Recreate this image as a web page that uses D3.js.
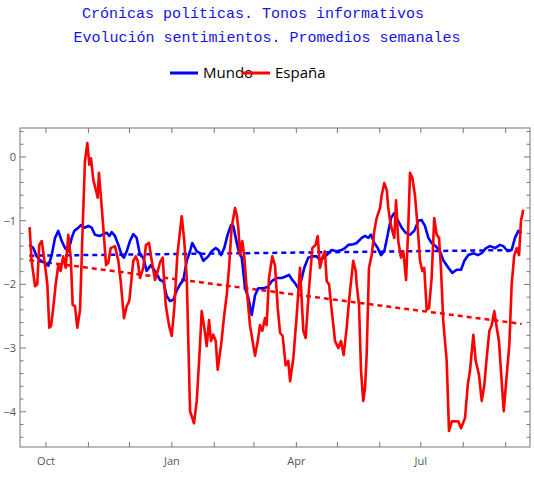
<!DOCTYPE html>
<html><head><meta charset="utf-8">
<script src="https://cdn.jsdelivr.net/npm/d3@7"></script>
<style>body{margin:0;background:#fff}</style></head>
<body><svg id="c" width="534" height="497"></svg>
<script>
// days since 2019-10-01
const espDays=[-12,-10.5,-8,-6.4,-4.9,-3.1,-0.7,1,2.4,3.7,5.3,7.1,9,10.7,12.6,14.4,16.3,18.1,19.5,21.2,22.9,24.9,26.8,28.5,30.2,31.7,32.9,34.6,36.6,37.8,38.7,40.2,41.9,43.9,45.5,47.3,50.4,52.9,54.6,57,59,60.9,63.8,65.6,67,68.7,71.1,73.1,75.3,77.3,79.7,81.7,83.3,85.3,87.5,89.9,91.9,93.8,96,99.2,100.9,102.9,105.3,108.2,110.2,112.6,113.8,115.7,117.5,119.2,120.6,122.3,124.1,125.5,128,130.3,132.1,133.8,135.7,138.2,139.4,140.6,141.8,143.5,145,146.7,149.1,152.8,154.8,156.4,158.1,160.1,161.3,163,165.4,167.4,169.4,171.1,173,175.2,177.1,178.4,180.8,183.3,185.7,188.1,189.8,192.3,194.7,197.1,198.6,200.3,202,203.9,205.2,206.9,208.8,211.3,213.7,215.6,217.6,219.8,221.5,224.6,226.4,227.1,228.8,230.3,231.9,233.2,234.4,236.1,238.1,240,241.7,244.2,245.4,247.3,249.1,250.2,251.5,253.1,254.6,255.9,257.5,259.5,261.2,263.2,264.8,266.1,267.8,269.7,271.7,273.4,275.1,276.5,278.3,280,281.9,283.8,285.6,287.3,288.7,290.4,292.9,294.6,296.6,299,301.4,303.4,306.3,308.3,309.9,312.4,314.1,316.5,318.5,320.4,322.1,324.1,325.8,327.7,329.5,331.1,333.1,334.6,336.8,338.7,340.4,342.3,344.1,345.8,347.2,348.9];
const espVals=[-1.10,-1.63,-2.03,-2.0,-1.38,-1.32,-1.70,-2.0,-2.68,-2.65,-2.37,-2.0,-1.70,-1.79,-1.56,-1.74,-1.22,-1.58,-2.32,-2.34,-2.68,-2.40,-1.11,-0.06,0.22,-0.12,-0.02,-0.36,-0.53,-0.64,-0.25,-0.64,-1.11,-1.70,-1.66,-1.43,-1.40,-1.63,-1.95,-2.53,-2.34,-2.26,-1.63,-1.56,-1.63,-1.90,-1.74,-1.38,-1.35,-1.63,-1.93,-1.79,-1.66,-1.58,-2.32,-2.64,-2.81,-2.37,-1.54,-0.93,-1.27,-1.90,-3.99,-4.18,-3.83,-2.95,-2.42,-2.68,-2.97,-2.56,-2.89,-2.79,-2.89,-3.34,-2.95,-2.48,-2.17,-1.74,-1.11,-0.80,-0.91,-1.11,-1.54,-1.32,-1.58,-2.06,-2.64,-3.12,-2.89,-2.64,-2.73,-2.53,-2.64,-1.90,-1.56,-1.70,-2.37,-2.76,-2.81,-3.27,-3.20,-3.52,-3.16,-2.48,-1.74,-2.73,-2.84,-2.06,-1.43,-1.38,-1.24,-1.74,-1.58,-1.48,-1.95,-2.0,-2.40,-2.89,-3.0,-2.89,-3.11,-2.68,-2.26,-1.63,-1.79,-2.0,-2.32,-3.36,-3.83,-3.63,-3.11,-1.74,-1.54,-1.16,-0.96,-0.80,-0.60,-0.41,-0.52,-0.80,-1.0,-1.16,-1.27,-0.68,-1.32,-1.58,-1.48,-1.93,-1.11,-0.25,-0.33,-0.60,-1.11,-1.63,-1.79,-1.74,-2.40,-2.37,-1.90,-0.96,-1.22,-1.27,-1.74,-2.58,-3.20,-4.30,-4.15,-4.15,-4.15,-4.26,-4.10,-3.58,-3.36,-2.79,-3.20,-3.42,-3.83,-3.58,-3.16,-2.73,-2.64,-2.42,-2.68,-2.89,-3.52,-3.99,-3.42,-2.95,-2.0,-1.54,-1.43,-1.54,-1.0,-0.83];
const munDays=[-12.2,-9.3,-6.8,-3.9,-0.7,1.7,4.2,6.6,9,11.5,13.9,16.3,18.8,20.7,23.6,25.6,28.5,30.9,33.4,35.8,39.5,41.9,44.4,46.3,48,50.4,52.9,55.3,57,59,61.4,63.8,66.3,68.7,71.1,73.6,76.5,79.7,83.3,85.7,88.2,90.6,93.1,95.5,98,100.4,102.9,105.3,106.9,110.2,112.6,115,118.6,121.1,124.1,126,128,130.3,132.8,135.2,136.9,138.7,140.6,143.1,145.5,147.9,150.4,152.8,155.2,158.8,162.1,165,168.6,172.3,174.7,177.6,180,182,184.4,186.4,188.8,191.7,194.7,197.9,200.3,202.7,205.2,208.8,212.5,216.2,218.6,221,224.6,227.1,230.8,233.2,235.6,237.6,240,242.5,244.9,247.3,249.8,252.2,254.6,257.1,260,262.9,266.1,269.2,272.2,274.6,277,279.5,281.9,284.9,288,290.4,294.1,297,300.2,303.4,305.8,308.7,312.4,315.6,318.5,321.6,324.6,328.2,331.9,334.3,337.5,340.4,342.8,345.3,347.7];
const munVals=[-1.38,-1.43,-1.56,-1.63,-1.66,-1.71,-1.54,-1.27,-1.16,-1.32,-1.43,-1.48,-1.27,-1.16,-1.11,-1.07,-1.11,-1.08,-1.11,-1.22,-1.24,-1.21,-1.19,-1.24,-1.18,-1.24,-1.38,-1.54,-1.58,-1.48,-1.32,-1.21,-1.27,-1.54,-1.58,-1.79,-1.70,-1.79,-1.93,-1.95,-2.18,-2.26,-2.24,-2.10,-2.0,-1.93,-1.63,-1.48,-1.35,-1.48,-1.51,-1.63,-1.56,-1.48,-1.43,-1.46,-1.54,-1.43,-1.22,-1.07,-1.08,-1.27,-1.46,-1.58,-2.06,-2.21,-2.48,-2.17,-2.06,-2.06,-2.04,-1.95,-1.90,-1.90,-1.88,-1.85,-1.93,-1.98,-2.06,-1.95,-1.74,-1.58,-1.56,-1.56,-1.62,-1.58,-1.54,-1.46,-1.48,-1.46,-1.43,-1.38,-1.37,-1.35,-1.27,-1.24,-1.27,-1.22,-1.35,-1.43,-1.54,-1.48,-1.22,-0.96,-0.88,-0.99,-1.11,-1.19,-1.22,-1.16,-1.0,-0.99,-1.08,-1.27,-1.35,-1.40,-1.48,-1.62,-1.74,-1.82,-1.77,-1.77,-1.63,-1.54,-1.51,-1.54,-1.51,-1.43,-1.40,-1.43,-1.38,-1.40,-1.48,-1.46,-1.27,-1.16,-1.19];
const trendDays=[-12.2,347.7];
const munTrend=[-1.55,-1.46];
const espTrend=[-1.62,-2.62];
const monthDays=[0,31,61,92,123,152,183,213,244,274,305,336];
const xLabels=[[0,"Oct"],[92,"Jan"],[183,"Apr"],[274,"Jul"]];
const yTicks=[0,-1,-2,-3,-4];
const seriesNames=["Mundo","España"];
const colors=["#0000ff","#ff0000"];

const svg=d3.select("#c");
const L=20,R=530,T=128,B=447;
const x=d3.scaleLinear().domain([-19,353.8]).range([L,R]);
const y=d3.scaleLinear().domain([0.455,-4.553]).range([T,B]);
const grey="#777";
// title
const tt=svg.append("g").attr("font-family","'Liberation Mono','DejaVu Sans Mono',monospace").attr("font-size",15).attr("fill","#1515e0").attr("text-anchor","middle");
tt.append("text").attr("x",253).attr("y",18).text("Crónicas políticas. Tonos informativos");
tt.append("text").attr("x",267).attr("y",42).text("Evolución sentimientos. Promedios semanales");
// legend
const lg=svg.append("g").attr("font-family","'Open Sans','DejaVu Sans',sans-serif").attr("font-size",15);
[[170,0],[242,1]].forEach(([lx,i])=>{
 lg.append("line").attr("x1",lx).attr("x2",lx+28).attr("y1",73).attr("y2",73).attr("stroke",colors[i]).attr("stroke-width",3);
 lg.append("text").attr("x",lx+33).attr("y",78).text(seriesNames[i]);
});
// frame
svg.append("rect").attr("x",L).attr("y",T).attr("width",R-L).attr("height",B-T).attr("fill","none").attr("stroke",grey).attr("stroke-width",1);
const ax=svg.append("g").attr("stroke",grey).attr("stroke-width",1);
monthDays.forEach(d=>{const px=x(d);
 ax.append("line").attr("x1",px).attr("x2",px).attr("y1",B).attr("y2",B-5);
 ax.append("line").attr("x1",px).attr("x2",px).attr("y1",T).attr("y2",T+5);});
for(let v=0.4;v>=-4.5;v-=0.2){const py=y(+v.toFixed(1));const major=Math.abs(v-Math.round(v))<0.01;const len=major?6:3.5;
 ax.append("line").attr("x1",L).attr("x2",L+len).attr("y1",py).attr("y2",py);
 ax.append("line").attr("x1",R).attr("x2",R-len).attr("y1",py).attr("y2",py);}
const tl=svg.append("g").attr("font-family","'Open Sans','DejaVu Sans',sans-serif").attr("font-size",11).attr("fill","#555");
yTicks.forEach(v=>tl.append("text").attr("x",16).attr("y",y(v)+4).attr("text-anchor","end").text(v===0?"0":"−"+Math.abs(v)));
xLabels.forEach(([d,s])=>tl.append("text").attr("x",x(d)).attr("y",465).attr("text-anchor","middle").text(s));
// lines
const line=d3.line().x(d=>x(d[0])).y(d=>y(d[1])).curve(d3.curveLinear);
const g=svg.append("g");
g.append("path").datum(trendDays.map((d,i)=>[d,munTrend[i]])).attr("d",line).attr("fill","none").attr("stroke",colors[0]).attr("stroke-width",2.5).attr("stroke-dasharray","5,4");
g.append("path").datum(trendDays.map((d,i)=>[d,espTrend[i]])).attr("d",line).attr("fill","none").attr("stroke",colors[1]).attr("stroke-width",2.5).attr("stroke-dasharray","5,4");
g.append("path").datum(munDays.map((d,i)=>[d,munVals[i]])).attr("d",line).attr("fill","none").attr("stroke",colors[0]).attr("stroke-width",2.6).attr("stroke-linejoin","round");
g.append("path").datum(espDays.map((d,i)=>[d,espVals[i]])).attr("d",line).attr("fill","none").attr("stroke",colors[1]).attr("stroke-width",2.6).attr("stroke-linejoin","round");
</script></body></html>
